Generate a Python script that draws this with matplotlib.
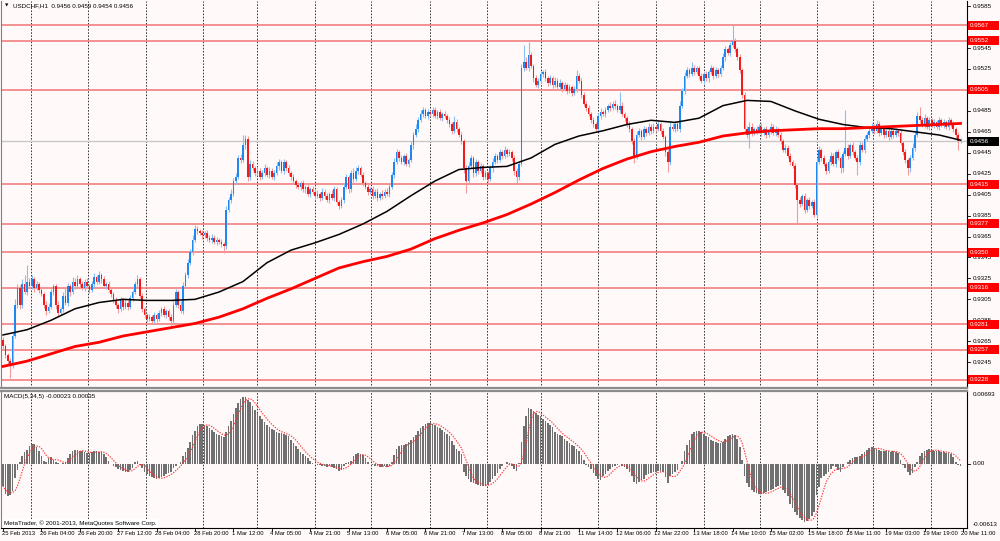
import numpy as np
import pandas as pd
import matplotlib
matplotlib.use("Agg")
import matplotlib.pyplot as plt
from matplotlib.patches import Rectangle
from matplotlib.transforms import blended_transform_factory

# ---------------------------------------------------------------------------
# Data (prices in pips above 0.9200, MACD in units of 0.0001)
# ---------------------------------------------------------------------------
BASE = 0.9200
PIP = 0.0001

first_open = 66
close_pips = [
    60, 52, 46, 42, 70, 100, 116, 100, 120, 112,
    122, 118, 124, 116, 120, 114, 110, 100, 94, 98,
    112, 118, 100, 92, 96, 108, 102, 118, 112, 122,
    118, 124, 120, 116, 122, 118, 114, 120, 126, 122,
    128, 124, 118, 120, 114, 110, 104, 100, 96, 104,
    98, 102, 98, 106, 112, 120, 124, 108, 96, 90,
    86, 88, 84, 90, 86, 92, 96, 90, 94, 88,
    84, 100, 112, 100, 94, 118, 128, 140, 150, 162,
    172, 170, 168, 166, 168, 164, 162, 164, 160, 162,
    160, 158, 156, 190, 200, 206, 218, 222, 240, 238,
    252, 258, 222, 234, 230, 226, 228, 222, 226, 230,
    224, 228, 222, 226, 232, 236, 228, 236, 230, 226,
    222, 218, 214, 212, 216, 210, 212, 206, 210, 208,
    204, 206, 202, 208, 204, 200, 206, 202, 210, 198,
    194, 200, 212, 222, 210, 226, 220, 228, 230, 224,
    216, 212, 208, 210, 204, 208, 202, 206, 204, 208,
    206, 212, 224, 236, 246, 240, 236, 242, 234, 238,
    252, 262, 268, 276, 282, 286, 280, 284, 282, 286,
    280, 284, 278, 282, 280, 276, 272, 266, 274, 268,
    262, 256, 230, 218, 232, 240, 226, 236, 228, 232,
    222, 226, 220, 230, 236, 242, 238, 246, 242, 248,
    244, 246, 240, 228, 222, 234, 326, 332, 326, 338,
    328, 316, 310, 314, 320, 322, 316, 312, 316, 310,
    314, 308, 312, 306, 310, 304, 308, 302, 306, 318,
    314, 300, 292, 288, 282, 276, 272, 268, 280, 284,
    282, 286, 290, 288, 292, 290, 286, 290, 282, 278,
    272, 268, 256, 242, 262, 266, 260, 268, 264, 270,
    266, 270, 268, 272, 266, 260, 246, 236, 270, 268,
    272, 268, 290, 304, 318, 324, 320, 326, 322, 326,
    318, 314, 320, 316, 322, 326, 318, 324, 320, 326,
    336, 344, 340, 348, 352, 344, 336, 324, 300, 268,
    262, 270, 264, 268, 266, 270, 264, 268, 262, 266,
    270, 264, 268, 262, 256, 248, 250, 242, 236, 232,
    214, 200, 196, 204, 190, 200, 194, 198, 186, 236,
    248, 240, 234, 228, 236, 242, 234, 246, 240, 230,
    244, 250, 242, 252, 246, 240, 236, 252, 248, 258,
    262, 266, 270, 266, 272, 264, 268, 262, 266, 260,
    266, 262, 266, 264, 254, 246, 238, 230, 240, 250,
    262, 280, 276, 272, 278, 270, 276, 272, 274, 270,
    276, 272, 274, 270, 276, 272, 268, 262, 256, 256,
]

hi_wick = [
    3, 2, 2, 3, 4, 5, 4, 3, 4, 8, 16, 3, 4, 2, 3, 2, 3, 2, 3, 4,
    3, 2, 2, 3, 2, 4, 8, 3, 2, 4, 3, 4, 2, 3, 2, 3, 2, 3, 4, 2,
    4, 2, 3, 2, 3, 2, 2, 3, 2, 3, 2, 3, 2, 3, 2, 3, 4, 2, 3, 2,
    2, 3, 2, 3, 2, 3, 2, 3, 2, 2, 3, 4, 3, 2, 3, 4, 3, 4, 3, 4,
    4, 3, 2, 3, 2, 3, 2, 3, 2, 3, 2, 3, 2, 4, 3, 4, 3, 4, 3, 4,
    10, 4, 3, 4, 3, 2, 3, 2, 3, 4, 2, 3, 2, 3, 4, 3, 2, 3, 2, 3,
    2, 3, 2, 3, 2, 3, 2, 3, 2, 3, 2, 3, 2, 3, 2, 3, 2, 3, 3, 2,
    2, 3, 4, 3, 2, 3, 4, 3, 3, 2, 3, 2, 3, 2, 3, 2, 3, 2, 3, 2,
    3, 4, 3, 4, 3, 2, 3, 2, 3, 2, 4, 3, 4, 3, 4, 3, 2, 3, 2, 3,
    3, 2, 3, 2, 3, 2, 3, 2, 6, 3, 2, 3, 2, 3, 4, 3, 2, 3, 2, 3,
    2, 3, 2, 3, 4, 3, 2, 3, 2, 3, 2, 3, 2, 3, 2, 3, 4, 16, 4, 13,
    3, 2, 3, 2, 3, 2, 3, 2, 3, 2, 3, 2, 3, 2, 3, 2, 3, 2, 3, 6,
    3, 2, 3, 2, 3, 2, 3, 2, 3, 4, 2, 3, 2, 3, 2, 3, 2, 13, 3, 2,
    2, 3, 2, 3, 4, 3, 2, 3, 2, 3, 2, 3, 2, 3, 2, 3, 2, 3, 4, 3,
    3, 2, 4, 3, 4, 3, 2, 6, 3, 2, 2, 3, 2, 3, 2, 3, 2, 3, 2, 3,
    4, 3, 2, 3, 15, 3, 2, 3, 2, 3, 3, 4, 3, 2, 3, 2, 3, 2, 3, 2,
    3, 2, 3, 2, 3, 2, 3, 2, 3, 2, 3, 2, 3, 2, 3, 2, 3, 2, 3, 4,
    3, 2, 3, 2, 3, 4, 3, 2, 3, 2, 3, 36, 3, 2, 3, 2, 3, 4, 3, 4,
    3, 4, 3, 2, 4, 3, 2, 3, 2, 3, 3, 2, 3, 2, 3, 2, 3, 2, 3, 4,
    3, 4, 9, 3, 4, 2, 3, 2, 3, 2, 3, 2, 3, 2, 3, 2, 3, 2, 3, 3,
]

lo_wick = [
    3, 3, 4, 12, 3, 2, 3, 4, 3, 2, 3, 2, 3, 4, 2, 3, 2, 3, 4, 2,
    2, 3, 4, 3, 2, 3, 2, 3, 4, 2, 3, 2, 3, 2, 3, 2, 3, 2, 3, 2,
    2, 3, 2, 3, 2, 3, 2, 3, 4, 2, 3, 2, 3, 2, 3, 2, 3, 2, 3, 3,
    3, 2, 3, 2, 3, 2, 3, 2, 3, 3, 4, 3, 2, 3, 2, 3, 2, 3, 2, 3,
    2, 3, 2, 3, 2, 3, 2, 3, 2, 3, 2, 3, 7, 3, 2, 3, 2, 3, 2, 3,
    2, 3, 4, 3, 2, 3, 2, 3, 2, 3, 2, 3, 2, 3, 2, 3, 2, 3, 2, 3,
    3, 2, 3, 2, 3, 2, 3, 2, 3, 2, 3, 2, 3, 2, 3, 2, 3, 2, 3, 2,
    3, 2, 3, 2, 3, 2, 3, 2, 3, 2, 3, 2, 3, 2, 3, 2, 3, 2, 3, 2,
    2, 3, 2, 3, 2, 3, 2, 3, 2, 3, 2, 3, 2, 3, 2, 3, 2, 3, 2, 3,
    2, 3, 2, 3, 2, 3, 2, 3, 2, 3, 2, 3, 4, 11, 3, 2, 4, 3, 3, 2,
    3, 2, 3, 2, 3, 2, 3, 2, 3, 2, 3, 2, 3, 4, 6, 3, 2, 3, 2, 3,
    2, 3, 2, 3, 2, 3, 2, 3, 2, 3, 2, 3, 2, 3, 2, 3, 2, 3, 2, 3,
    2, 3, 2, 3, 2, 3, 2, 3, 2, 3, 2, 3, 2, 3, 2, 3, 2, 3, 2, 3,
    2, 3, 3, 7, 3, 2, 3, 2, 3, 2, 3, 2, 3, 2, 3, 2, 4, 9, 3, 2,
    3, 2, 3, 2, 3, 2, 3, 2, 3, 2, 3, 2, 3, 2, 3, 2, 3, 2, 3, 2,
    2, 3, 2, 3, 2, 3, 2, 3, 3, 4, 3, 12, 3, 2, 3, 2, 3, 2, 3, 2,
    3, 2, 3, 2, 3, 2, 3, 2, 3, 2, 3, 22, 3, 2, 3, 2, 3, 2, 2, 3,
    2, 3, 2, 3, 2, 3, 2, 3, 2, 4, 3, 2, 3, 2, 3, 2, 12, 3, 2, 3,
    2, 3, 2, 3, 2, 3, 2, 3, 2, 3, 2, 3, 2, 3, 2, 3, 3, 6, 3, 2,
    3, 2, 3, 2, 3, 2, 3, 2, 3, 2, 3, 2, 3, 2, 3, 2, 3, 3, 8, 2,
]

macd_e4 = [
    -21, -29, -31, -30, -26, -14, -6, 2, 7, 11,
    13, 17, 19, 19, 16, 12, 7, 3, 2, 5,
    6, 4, 2, 1, 0, 1, 2, 5, 9, 12,
    13, 13, 12, 12, 11, 10, 10, 11, 12, 12,
    11, 11, 9, 6, 3, 0, -2, -3, -5, -6,
    -7, -8, -8, -6, -4, 2, 3, -1, -4, -8,
    -10, -12, -13, -14, -15, -14, -13, -12, -10, -9,
    -8, -4, -2, 0, 2, 7, 11, 15, 21, 27,
    31, 36, 38, 38, 37, 36, 34, 32, 30, 28,
    27, 26, 25, 30, 36, 41, 47, 53, 58, 62,
    64, 64, 61, 59, 55, 51, 48, 45, 43, 40,
    37, 35, 33, 32, 30, 29, 29, 28, 27, 26,
    23, 20, 17, 14, 11, 9, 7, 5, 3, 1,
    0, -1, -1, -2, -2, -3, -2, -3, -4, -5,
    -7, -6, -2, 1, 2, 3, 7, 9, 10, 9,
    8, 5, 2, 0, -1, -2, -2, -3, -3, -2,
    -3, -2, 2, 8, 14, 17, 18, 18, 19, 21,
    23, 25, 27, 31, 34, 36, 38, 39, 39, 38,
    37, 35, 34, 32, 30, 28, 26, 22, 18, 14,
    12, 9, -8, -12, -15, -17, -18, -19, -20, -21,
    -21, -21, -20, -17, -15, -12, -9, -5, -2, 0,
    2, 1, -2, -5, -7, 1, 21, 36, 45, 53,
    52, 50, 48, 46, 45, 43, 41, 39, 37, 35,
    30, 28, 27, 26, 24, 22, 20, 18, 17, 14,
    12, 8, 4, -1, -3, -5, -9, -12, -15, -16,
    -12, -10, -7, -5, -3, -2, -1, 0, -2, -3,
    -5, -8, -12, -17, -19, -17, -16, -15, -11, -10,
    -9, -8, -8, -7, -7, -8, -13, -18, -12, -10,
    -8, -6, 0, 3, 12, 18, 23, 28, 30, 31,
    31, 30, 28, 26, 25, 23, 22, 21, 20, 20,
    21, 24, 26, 27, 28, 27, 24, 16, 4, -12,
    -18, -22, -25, -27, -28, -29, -29, -28, -27, -26,
    -25, -24, -22, -21, -20, -25, -28, -31, -38, -42,
    -46, -49, -52, -54, -56, -55, -53, -50, -46, -30,
    -22, -14, -12, -10, -8, -5, -2, -3, -6, -8,
    -3, 0, 2, 4, 5, 6, 6, 7, 9, 11,
    13, 15, 16, 15, 14, 13, 12, 12, 12, 12,
    11, 12, 11, 10, 4, -1, -4, -8, -11, -9,
    -3, 2, 7, 10, 12, 13, 14, 13, 12, 12,
    12, 11, 11, 10, 10, 9, 6, 2, -1, -2.3,
]

# moving averages read every 10 bars (last point at bar 399)
ma_idx = [0, 10, 20, 30, 40, 50, 60, 70, 80, 90, 100, 110, 120, 130, 140,
          150, 160, 170, 180, 190, 200, 210, 220, 230, 240, 250, 260, 270,
          280, 290, 300, 310, 320, 330, 340, 350, 360, 370, 380, 390, 399]
ma_black_pips = [71, 76, 85, 96, 102, 105, 104, 104, 105, 112, 122, 140, 152,
                 159, 167, 177, 189, 204, 218, 229, 231, 232, 240, 253, 261,
                 266, 272, 276, 274, 278, 290, 295, 294, 285, 277, 272, 269,
                 268, 265, 262, 257]
ma_red_pips = [41, 46, 53, 60, 64, 70, 74, 78, 82, 88, 96, 106, 115, 125, 135,
               141, 146, 153, 163, 171, 178, 186, 196, 207, 219, 230, 239, 246,
               251, 255, 261, 264, 266, 267, 268, 268, 269, 270, 271, 272, 273]

levels = [0.9567, 0.9552, 0.9505, 0.9415, 0.9377, 0.9350, 0.9316, 0.9281, 0.9257, 0.9228]
last_price = 0.9456
# 0.9565, 0.9505 and 0.9225 sit under the level tags and are not shown
price_ticks = [0.9585, 0.9545, 0.9525, 0.9485, 0.9465, 0.9445, 0.9425, 0.9405,
               0.9385, 0.9365, 0.9345, 0.9325, 0.9305, 0.9285, 0.9265, 0.9245]

day_lines = [11.5, 35.5, 59.5, 83.5, 106, 130, 153.5, 178, 201.5, 224, 248,
             272, 292, 315.5, 339, 362.5, 386.5]
time_labels = ["25 Feb 2013", "26 Feb 04:00", "26 Feb 20:00", "27 Feb 12:00",
               "28 Feb 04:00", "28 Feb 20:00", "1 Mar 12:00", "4 Mar 05:00",
               "4 Mar 21:00", "5 Mar 13:00", "6 Mar 05:00", "6 Mar 21:00",
               "7 Mar 13:00", "8 Mar 05:00", "8 Mar 21:00", "11 Mar 14:00",
               "12 Mar 06:00", "12 Mar 22:00", "13 Mar 18:00", "14 Mar 10:00",
               "15 Mar 02:00", "15 Mar 18:00", "18 Mar 11:00", "19 Mar 03:00",
               "19 Mar 19:00", "20 Mar 11:00"]
label_step = 16

# ---------------------------------------------------------------------------
# Styling
# ---------------------------------------------------------------------------
BG = "#FFFAF9"
plt.rcParams["font.family"] = ["Liberation Sans", "DejaVu Sans"]
FS = 4.5
FS_TIME = 4.2

W, H = 1000, 541


def box(x0, y0, x1, y1):
    """pixel box (top-left origin) -> figure fraction rect"""
    return [x0 / W, 1 - y1 / H, (x1 - x0) / W, (y1 - y0) / H]


fig = plt.figure(figsize=(10, 5.41), dpi=100, facecolor=BG)
ax = fig.add_axes(box(1, 1, 967, 388), facecolor=BG)
ax2 = fig.add_axes(box(1, 391, 967, 528), facecolor=BG, sharex=ax)

c = BASE + np.array(close_pips) * PIP
o = np.r_[BASE + first_open * PIP, c[:-1]]
hi = np.maximum(o, c) + np.array(hi_wick) * PIP
lo = np.minimum(o, c) - np.array(lo_wick) * PIP
x = np.arange(len(c))
up = c >= o

# levels and last price
for lv in levels:
    ax.axhline(lv, color="#F07474", lw=1.1, zorder=1)
ax.axhline(last_price, color="#C8C8C8", lw=1.0, zorder=1)

# day separators
for a in (ax, ax2):
    for g in day_lines:
        a.axvline(g, color="#333333", lw=0.7, ls=(0, (1.6, 1.6)), zorder=0.5)

# candles
ax.vlines(x, lo, hi, colors=np.where(up, "#86BFF5", "#F59A9A"), lw=0.8, zorder=2)
body = np.maximum(np.abs(c - o), 0.00004)
ax.bar(x, body, bottom=np.minimum(o, c), width=0.7,
       color=np.where(up, "#1E88F0", "#F21B1B"), linewidth=0, zorder=3)

# moving averages
ax.plot(ma_idx, BASE + np.array(ma_black_pips) * PIP, color="black", lw=1.1, zorder=4)
ax.plot(ma_idx, BASE + np.array(ma_red_pips) * PIP, color="#FF0000", lw=2.0, zorder=4)

ax.set_xlim(-0.83, 401.7)
ax.set_ylim(0.922036, 0.958992)

# MACD
m = np.array(macd_e4) * 1e-4
signal = pd.Series(m).rolling(5, min_periods=1).mean().values
ax2.bar(x, m, width=0.7, color="#707070", linewidth=0, zorder=2)
ax2.plot(x, signal, color="#FF3030", lw=0.8, ls=(0, (1.2, 1.2)), zorder=3)
ax2.set_ylim(-0.00613, 0.00693)

# spines / ticks
for a in (ax, ax2):
    a.tick_params(left=False, labelleft=False, bottom=False, labelbottom=False,
                  right=False, labelright=False)
    a.spines["left"].set_color("#808080")
    a.spines["right"].set_color("black")
    a.spines["right"].set_linewidth(0.8)
ax.spines["top"].set_visible(False)
ax.spines["bottom"].set_color("#8C8C8C")
ax.spines["bottom"].set_linewidth(1.6)
ax2.spines["top"].set_color("#8C8C8C")
ax2.spines["top"].set_linewidth(1.6)
ax2.spines["bottom"].set_color("black")
ax2.spines["bottom"].set_linewidth(0.8)

tr = blended_transform_factory(ax.transAxes, ax.transData)
for p in price_ticks:
    ax.plot([1.0, 1.0035], [p, p], color="black", lw=0.6, transform=tr, clip_on=False)
    ax.text(1.006, p, f"{p:.4f}", transform=tr, fontsize=FS, va="center",
            ha="left", color="black", clip_on=False)

# price tags: fixed-size boxes like the terminal draws them
px_x = 1 / 966          # one pixel in axes fraction
px_y = 1 / 10472        # one pixel in price units
for val, col in [(lv, "#FF0000") for lv in levels] + [(last_price, "black")]:
    ax.add_patch(Rectangle((1 + 1 * px_x, val - 4.5 * px_y), 31 * px_x, 9 * px_y,
                           transform=tr, facecolor=col, edgecolor="none",
                           clip_on=False, zorder=6))
    ax.text(1 + 3 * px_x, val, f"{val:.4f}", transform=tr, fontsize=FS,
            va="center", ha="left", color="white", clip_on=False, zorder=7)

tr2 = blended_transform_factory(ax2.transAxes, ax2.transAxes)
ax2.text(1.006, 0.995, "0.00693", transform=tr2, fontsize=FS, va="top", ha="left")
ax2.text(1.006, 0.005, "-0.00613", transform=tr2, fontsize=FS, va="bottom", ha="left")
tr2b = blended_transform_factory(ax2.transAxes, ax2.transData)
ax2.text(1.006, 0.0, "0.00", transform=tr2b, fontsize=FS, va="center", ha="left")
ax2.plot([1.0, 1.0035], [0, 0], color="black", lw=0.6, transform=tr2b, clip_on=False)

# time axis
trx = blended_transform_factory(ax2.transData, ax2.transAxes)
for k, lab in enumerate(time_labels):
    xi = k * label_step
    ax2.plot([xi, xi], [0, -0.02], color="black", lw=0.6, transform=trx, clip_on=False)
    ax2.text(xi - 0.6, -0.025, lab, transform=trx, fontsize=FS_TIME, va="top",
             ha="left", clip_on=False)

# header texts
ax.text(0.004, 0.993, "\u25BC", transform=ax.transAxes, fontsize=3.2, va="top",
        ha="left", family="DejaVu Sans")
ax.text(0.012, 0.995, "USDCHF,H1  0.9456 0.9459 0.9454 0.9456",
        transform=ax.transAxes, fontsize=FS, va="top", ha="left")
ax2.text(0.003, 0.975, "MACD(5,34,5) -0.00023 0.00035", transform=ax2.transAxes,
         fontsize=FS, va="top", ha="left")
ax2.text(0.003, 0.012, "MetaTrader, \u00A9 2001-2013, MetaQuotes Software Corp.",
         transform=ax2.transAxes, fontsize=FS, va="bottom", ha="left", zorder=6,
         bbox=dict(boxstyle="square,pad=0.2", facecolor="white", edgecolor="none"))

fig.savefig("out.png", dpi=100, facecolor=BG)
